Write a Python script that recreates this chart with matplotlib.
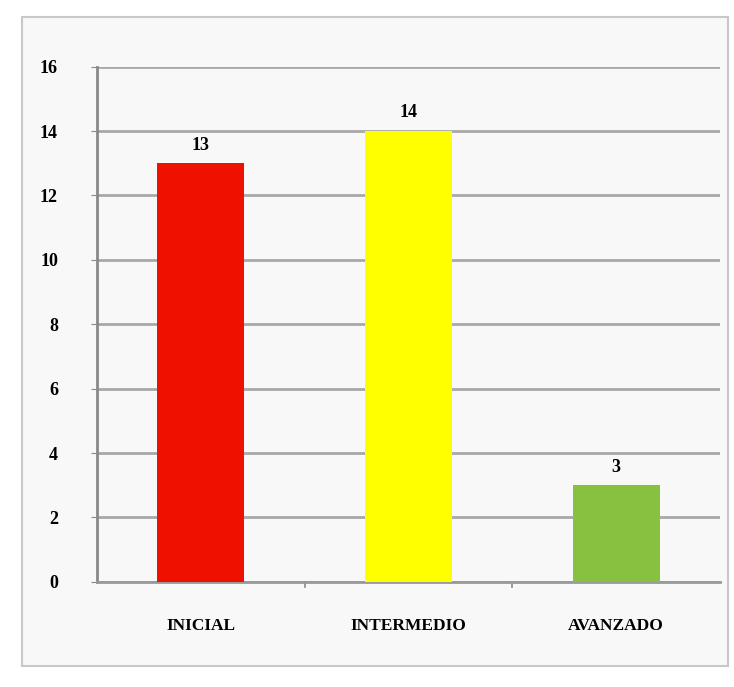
import matplotlib.pyplot as plt
from matplotlib.patches import Rectangle

# datos
niveles = ['INICIAL', 'INTERMEDIO', 'AVANZADO']
valores = [13, 14, 3]
colores = ['#ee1100', '#ffff00', '#88c040']
yticks = [0, 2, 4, 6, 8, 10, 12, 14, 16]

fig = plt.figure(figsize=(7.34, 6.87), dpi=100)
fig.patch.set_facecolor('white')
# marco exterior
fig.patches.append(Rectangle((0.03, 0.03), 0.962, 0.945, transform=fig.transFigure,
                             fill=True, facecolor='#f8f8f8', edgecolor='#c8c8c8', lw=1.5,
                             zorder=-5))

ax = fig.add_axes([0.132, 0.153, 0.849, 0.75])
ax.set_facecolor('#f8f8f8')

x = range(len(niveles))
barras = ax.bar(x, valores, width=0.42, color=colores, zorder=3)
for b, v in zip(barras, valores):
    ax.text(b.get_x() + b.get_width() / 2, v + 0.3, str(v), ha='center', va='bottom',
            fontsize=13, fontweight='bold', family='Liberation Serif')

ax.set_ylim(0, 16)
ax.set_xlim(-0.5, 2.5)
ax.set_yticks(yticks)
ax.set_yticklabels([str(t) for t in yticks], fontsize=13, fontweight='bold',
                   family='Liberation Serif')
ax.set_xticks(list(x))
ax.set_xticklabels(niveles, fontsize=12.5, fontweight='bold', family='Liberation Serif')
ax.tick_params(axis='x', length=0, pad=26)
ax.tick_params(axis='y', length=4, color='#888888', pad=24)
for sep in [0.5, 1.5]:
    ax.plot([sep, sep], [0, -0.15], color='#888888', lw=1.2, clip_on=False)

ax.yaxis.grid(True, color='#a8a8a8', lw=2, zorder=0)
for s in ['top', 'right']:
    ax.spines[s].set_visible(False)
ax.spines['left'].set_color('#888888')
ax.spines['left'].set_linewidth(2)
ax.spines['bottom'].set_color('#999999')
ax.spines['bottom'].set_linewidth(2)

fig.savefig('out.png', dpi=100)
